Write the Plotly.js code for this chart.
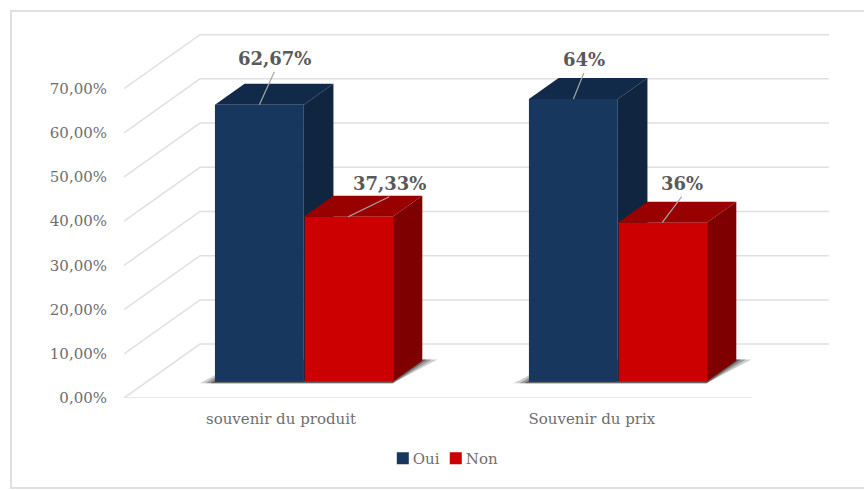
<!DOCTYPE html>
<html>
<head>
<meta charset="utf-8">
<script src="https://cdn.plot.ly/plotly-3.0.1.min.js"></script>
<style>
  html, body { margin: 0; padding: 0; width: 864px; height: 490px; overflow: hidden; background: #ffffff; }
  #frame { position: absolute; left: 10px; top: 10px; width: 900px; height: 475px; border: 2px solid #e0e0e0; box-sizing: content-box; }
  #chart { position: absolute; left: 0; top: 0; width: 864px; height: 490px; }
</style>
</head>
<body>
<div id="frame"></div>
<div id="chart"></div>
<script>
// Survey results: recall of the product and of the price
const categories = ["souvenir du produit", "Souvenir du prix"];
const categoryTickPos = [0.5, 1.49];
const seriesNames = ["Oui", "Non"];
const oui = [62.67, 64];
const non = [37.33, 36];
const axisTicks = [0, 10, 20, 30, 40, 50, 60, 70];

// Pseudo-3D oblique projection, expressed in axis units
const wallDX = 0.242, wallDY = 12.2;       // shift from the front of the floor to the back wall
const barPlane = 0.3;                      // where the bar fronts stand on the floor
const barDepth = 0.39;                     // depth of each bar, as a share of the floor
const barWidth = 0.283;
const xMax = 2.2643, yMax = 85.52, wallEnd = 2.245, floorEnd = 2;
const pxPerX = 314, pxPerY = 4.42;         // plot size divided by axis span

const colors = {
  oui: { front: "#17375e", top: "#122a49", side: "#0f2540" },
  non: { front: "#cc0000", top: "#990000", side: "#7f0000" }
};
const gridColor = "#e0e0e0";
const tickFont = { family: "DejaVu Serif", size: 15, color: "#6e6e6e" };

const fr = v => String(v).replace(".", ",");
const project = (x, y, d) => [x + wallDX * d, y + wallDY * d];

function polygon(points, color, zorder) {
  return {
    type: "scatter", mode: "lines", fill: "toself", fillcolor: color,
    x: points.map(p => p[0]), y: points.map(p => p[1]),
    line: { width: 0, color: color }, showlegend: false, hoverinfo: "skip",
    zorder: zorder, cliponaxis: false
  };
}

function polyline(xs, ys) {
  return {
    type: "scatter", mode: "lines", x: xs, y: ys,
    line: { color: gridColor, width: 1.5 }, showlegend: false, hoverinfo: "skip",
    zorder: 0, cliponaxis: false
  };
}

const traces = [];

// Wall gridlines with their diagonal run across the floor side
axisTicks.forEach(v => {
  const back = project(0, v, 1);
  traces.push(polyline([0, back[0], wallEnd], [v, back[1], back[1]]));
});
traces.push(polyline([0, floorEnd], [0, 0]));

// Soft floor shadow beneath each pair of bars
categories.forEach((_, i) => {
  const c = i + 0.5;
  const l = c - barWidth, r = c + barWidth;
  const d0 = barPlane, d1 = barPlane + barDepth;
  const layer = (grow, color) => polygon([
    project(l - grow, -0.35, d0),
    project(r, -0.35, d0),
    project(r + grow, 0.3, d1),
    project(l, 0.3, d1)
  ], color, 1);
  traces.push(layer(0.048, "rgba(90,90,90,0.3)"));
  traces.push(layer(0.03, "rgba(60,60,60,0.35)"));
  traces.push(layer(0.014, "rgba(40,40,40,0.45)"));
});

// Top and side faces of one bar
function faces(x0, x1, v, palette, zorder) {
  const d0 = barPlane, d1 = barPlane + barDepth;
  const top = polygon([
    project(x0, v, d0), project(x1, v, d0), project(x1, v, d1), project(x0, v, d1)
  ], palette.top, zorder);
  const side = polygon([
    project(x1, 0, d0), project(x1, 0, d1), project(x1, v, d1), project(x1, v, d0)
  ], palette.side, zorder);
  return [top, side];
}

categories.forEach((_, i) => {
  const c = i + 0.5;
  traces.push(...faces(c - barWidth, c, oui[i], colors.oui, 2));
  traces.push(...faces(c, c + barWidth, non[i], colors.non, 4));
});

// Front faces: real bars raised to the bar plane
const barX = categories.map((_, i) => project(i + 0.5, 0, barPlane)[0]);
const barBase = categories.map(() => project(0, 0, barPlane)[1]);
traces.push({
  type: "bar", name: seriesNames[0], x: barX, y: oui, base: barBase,
  width: barWidth, offset: -barWidth,
  marker: { color: colors.oui.front }, zorder: 3, hoverinfo: "name+y"
});
traces.push({
  type: "bar", name: seriesNames[1], x: barX, y: non, base: barBase,
  width: barWidth, offset: 0.003,
  marker: { color: colors.non.front }, zorder: 5, hoverinfo: "name+y"
});

// Value labels placed by hand above the bars, each with a leader line to the bar's front edge
const labelFont = { family: "DejaVu Serif", size: 18, color: "#595959", weight: 700 };
const ouiLabelShift = [[15, 46], [10.5, 39]];
const nonLabelShift = [[41, 33], [19.5, 39]];
const leaderGap = 13;
const annotations = [];
function addLabel(x, v, shift) {
  const p = project(x, v, barPlane);
  annotations.push({
    x: p[0], y: p[1], xref: "x", yref: "y",
    xshift: shift[0], yshift: shift[1],
    text: "<b>" + fr(v) + "%</b>", font: labelFont, showarrow: false
  });
  traces.push({
    type: "scatter", mode: "lines",
    x: [p[0], p[0] + shift[0] / pxPerX],
    y: [p[1], p[1] + (shift[1] - leaderGap) / pxPerY],
    line: { color: "#a6a6a6", width: 1.2 }, showlegend: false, hoverinfo: "skip",
    zorder: 6, cliponaxis: false
  });
}
categories.forEach((_, i) => {
  addLabel(i + 0.5 - barWidth / 2, oui[i], ouiLabelShift[i]);
  addLabel(i + 0.5 + barWidth / 2, non[i], nonLabelShift[i]);
});

const layout = {
  width: 864, height: 490,
  margin: { l: 124, r: 29, t: 20, b: 92, pad: 0 },
  paper_bgcolor: "rgba(0,0,0,0)", plot_bgcolor: "rgba(0,0,0,0)",
  showlegend: true,
  barmode: "overlay",
  legend: {
    orientation: "h", x: 0.364, xanchor: "left", y: -0.16, yanchor: "middle",
    font: tickFont, itemwidth: 30, traceorder: "normal", bgcolor: "rgba(0,0,0,0)"
  },
  xaxis: {
    range: [0, xMax], showgrid: false, zeroline: false, showline: false,
    tickmode: "array", tickvals: categoryTickPos, ticktext: categories,
    ticks: "outside", ticklen: 7, tickcolor: "rgba(0,0,0,0)", tickfont: tickFont
  },
  yaxis: {
    range: [0, yMax], showgrid: false, zeroline: false, showline: false,
    tickmode: "array", tickvals: axisTicks,
    ticktext: axisTicks.map(v => v.toFixed(2).replace(".", ",") + "%"),
    ticks: "outside", ticklen: 13, tickcolor: "rgba(0,0,0,0)", tickfont: tickFont
  },
  annotations: annotations
};

// Tighten the legend: less room between swatch and text, and between entries
const swatchGap = 10, entryTighten = 19;
Plotly.newPlot("chart", traces, layout, { displayModeBar: false, responsive: false }).then(() => {
  document.querySelectorAll("#chart .legend .traces").forEach((entry, i) => {
    const text = entry.querySelector(".legendtext");
    text.setAttribute("x", parseFloat(text.getAttribute("x")) - swatchGap);
    const m = /translate\(([-\d.]+)[ ,]+([-\d.]+)\)/.exec(entry.getAttribute("transform"));
    if (m) entry.setAttribute("transform", "translate(" + (parseFloat(m[1]) - i * entryTighten) + "," + m[2] + ")");
  });
});
</script>
</body>
</html>
